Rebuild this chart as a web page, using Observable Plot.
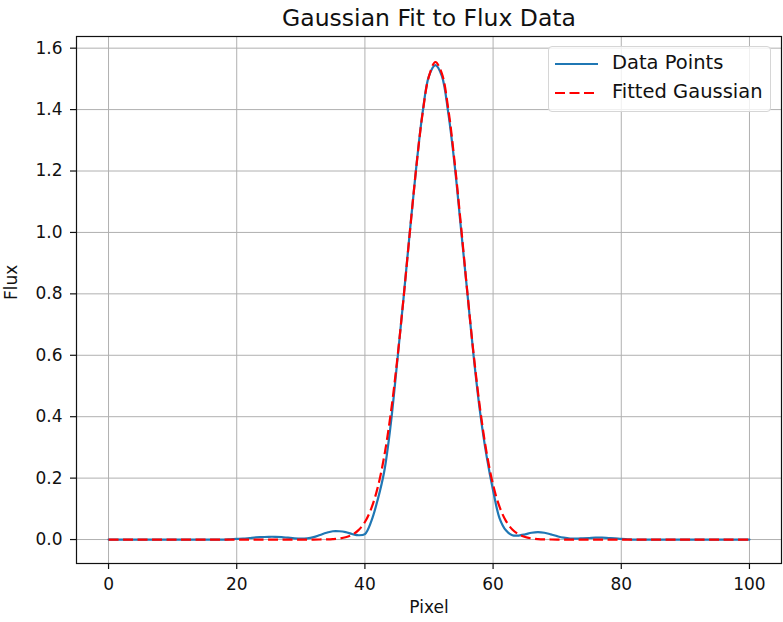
<!DOCTYPE html>
<html>
<head>
<meta charset="utf-8">
<script src="https://cdn.jsdelivr.net/npm/d3@7"></script>
<script src="https://cdn.jsdelivr.net/npm/@observablehq/plot@0.6"></script>
<style>
  html, body { margin: 0; padding: 0; background: white; }
  #wrap { position: relative; width: 783px; height: 622px; font-family: "DejaVu Sans", sans-serif; }
  #legend { position: absolute; left: 548px; top: 46px; width: 221px; height: 64px;
            border: 1px solid #d6d6d6; border-radius: 4px; background: rgba(255,255,255,0.8); }
  .row { position: absolute; left: 0; height: 22px; }
  .row svg { position: absolute; left: 6px; top: 1px; }
  .row span { position: absolute; left: 63px; top: -1px; font-size: 19.5px; color: #111; white-space: nowrap; line-height: 22px; }
</style>
</head>
<body>
<div id="wrap"></div>
<script>
const title = "Gaussian Fit to Flux Data";
const xLabel = "Pixel";
const yLabel = "Flux";
const seriesNames = ["Data Points", "Fitted Gaussian"];
const seriesColors = ["#1f77b4", "red"];
const xTicks = [0, 20, 40, 60, 80, 100];
const yTicks = [0.0, 0.2, 0.4, 0.6, 0.8, 1.0, 1.2, 1.4, 1.6];

const pixels = [
  0,1,2,3,4,5,6,7,8,9,10,11,12,13,14,15,16,17,18,19,
  20,21,22,23,24,25,26,27,28,29,30,31,32,33,34,35,36,37,38,39,
  40,41,42,43,44,45,46,47,48,49,50,51,52,53,54,55,56,57,58,59,
  60,61,62,63,64,65,66,67,68,69,70,71,72,73,74,75,76,77,78,79,
  80,81,82,83,84,85,86,87,88,89,90,91,92,93,94,95,96,97,98,99,100
];

const flux = [
  0,0,0,0,0,0,0,0,0,0,0,0,0,0,0,0,0,0,0,0.001,
  0.002,0.003,0.005,0.007,0.008,0.009,0.009,0.008,0.006,0.004,0.003,0.004,0.008,0.015,0.022,0.027,0.027,0.024,0.018,0.014,
  0.018,0.06,0.13,0.22,0.37,0.57,0.78,1.00,1.21,1.39,1.51,1.545,1.51,1.39,1.22,1.01,0.80,0.59,0.41,0.27,
  0.16,0.07,0.03,0.014,0.013,0.017,0.022,0.024,0.022,0.017,0.011,0.006,0.003,0.003,0.004,0.005,0.006,0.006,0.005,0.004,
  0.002,0.001,0,0,0,0,0,0,0,0,0,0,0,0,0,0,0,0,0,0,0
];

const fitted = [
  0,0,0,0,0,0,0,0,0,0,0,0,0,0,0,0,0,0,0,0,
  0,0,0,0,0,0,0,0,0,0,0,0,0,0.0002,0.0006,0.0015,0.0034,0.0075,0.0156,0.0306,
  0.0572,0.1014,0.1698,0.2696,0.4056,0.5778,0.7801,0.998,1.209,1.388,1.509,1.555,1.518,1.403,1.229,1.020,0.8016,0.597,0.4213,0.2815,
  0.1782,0.1070,0.0608,0.0327,0.0167,0.0081,0.0037,0.0016,0.0006,0.0002,0,0,0,0,0,0,0,0,0,0,
  0,0,0,0,0,0,0,0,0,0,0,0,0,0,0,0,0,0,0,0,0
];

const dataRows = pixels.map((p, i) => ({pixel: p, flux: flux[i]}));
const fitRows = pixels.map((p, i) => ({pixel: p, flux: fitted[i]}));

const chart = Plot.plot({
  width: 783,
  height: 622,
  marginLeft: 76,
  marginRight: 2,
  marginTop: 36,
  marginBottom: 59,
  style: {fontFamily: "DejaVu Sans", fontSize: "17px", color: "#111", background: "white", overflow: "visible"},
  x: {domain: [-5, 105]},
  y: {domain: [-0.078, 1.638]},
  marks: [
    Plot.gridX(xTicks, {stroke: "#b0b0b0", strokeOpacity: 1, strokeWidth: 1}),
    Plot.gridY(yTicks, {stroke: "#b0b0b0", strokeOpacity: 1, strokeWidth: 1}),
    Plot.line(dataRows, {x: "pixel", y: "flux", stroke: seriesColors[0], strokeWidth: 2.2, curve: "catmull-rom"}),
    Plot.line(fitRows, {x: "pixel", y: "flux", stroke: seriesColors[1], strokeWidth: 2.2, strokeDasharray: "10,4.5", strokeLinecap: "butt", curve: "catmull-rom"}),
    Plot.axisX(xTicks, {tickSize: 6, tickPadding: 8, stroke: "#111", strokeWidth: 1.2, label: null, fontSize: 17}),
    Plot.axisY(yTicks, {tickSize: 6, tickPadding: 8, stroke: "#111", strokeWidth: 1.2, label: null, tickFormat: d3.format(".1f"), fontSize: 17}),
    Plot.frame({stroke: "#111", strokeWidth: 1.2}),
    Plot.text([title], {frameAnchor: "top", dy: -27, fontSize: 23.5, fill: "#111"}),
    Plot.text([xLabel], {frameAnchor: "bottom", dy: 49, fontSize: 17, fill: "#111"}),
    Plot.text([yLabel], {frameAnchor: "left", dx: -65, rotate: -90, fontSize: 17, fill: "#111"})
  ]
});

const wrap = document.getElementById("wrap");
wrap.appendChild(chart);

const legend = document.createElement("div");
legend.id = "legend";
const rowTops = [6, 35];
seriesNames.forEach((name, i) => {
  const row = document.createElement("div");
  row.className = "row";
  row.style.top = rowTops[i] + "px";
  const dash = i === 1 ? 'stroke-dasharray="10,4.5"' : '';
  row.innerHTML = `<svg width="44" height="20"><line x1="0" y1="10" x2="43" y2="10" stroke="${seriesColors[i]}" stroke-width="2.2" ${dash}/></svg><span>${name}</span>`;
  legend.appendChild(row);
});
wrap.appendChild(legend);
</script>
</body>
</html>
